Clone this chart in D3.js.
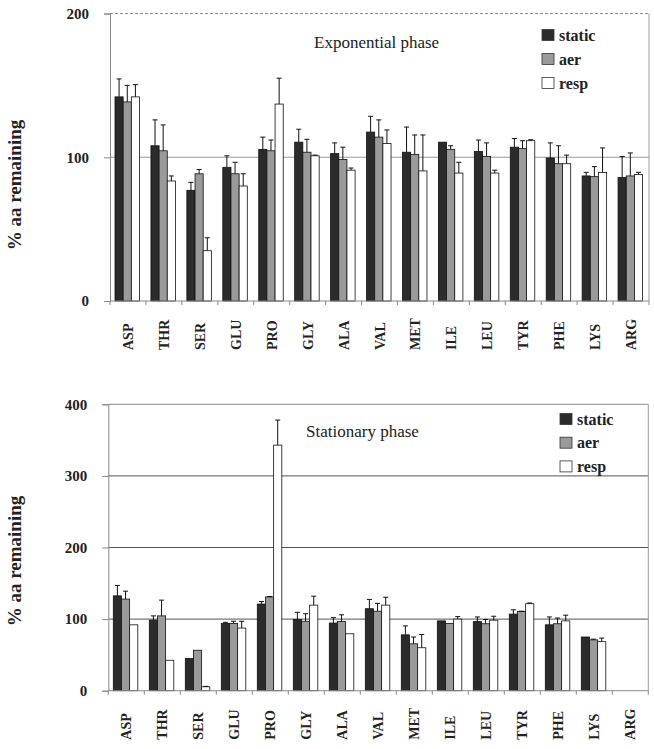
<!DOCTYPE html>
<html>
<head>
<meta charset="utf-8">
<script src="https://cdn.jsdelivr.net/npm/d3@7"></script>
<style>
  html, body { margin: 0; padding: 0; background: #fff; }
  svg { display: block; }
</style>
</head>
<body>
<svg id="chart" width="654" height="749"></svg>
<script>
const categories = ["ASP","THR","SER","GLU","PRO","GLY","ALA","VAL","MET","ILE","LEU","TYR","PHE","LYS","ARG"];
const seriesNames = ["static","aer","resp"];

// Exponential phase
const expStatic    = [142, 108, 77, 93, 105.5, 110.5, 102.5, 117.5, 103.5, 110.5, 104, 107, 99.5, 87, 86];
const expStaticErr = [12.5, 18, 5.5, 8, 8.5, 9, 7.5, 11, 17.5, 0, 8, 6, 10.5, 2.5, 14.5];
const expAer       = [138.5, 104.5, 88.5, 88.5, 104.5, 103.5, 98.5, 114, 102, 105.5, 100.5, 106, 95.5, 86.5, 87];
const expAerErr    = [11.5, 18, 3, 8, 7.5, 9, 8.5, 12, 13.5, 2.5, 9.5, 5.5, 12.5, 7, 16];
const expResp      = [142, 83.5, 35, 80, 137, 101, 91, 109.5, 90.5, 89, 89, 111.5, 95.5, 89.5, 88];
const expRespErr   = [8.5, 3.5, 9, 8.5, 18, 0.5, 1.5, 9.5, 25, 7.5, 2, 0.7, 6, 17, 1.5];

// Stationary phase
const statStatic    = [132.5, 98.5, 45, 94, 121, 99.5, 94.5, 114.5, 78, 97.5, 96.5, 107, 92, 75, 0];
const statStaticErr = [14.5, 6, 0, 1.5, 3.5, 10, 7.5, 13, 12.5, 0, 6.5, 6, 11, 0, 0];
const statAer       = [128, 104.5, 56.5, 94, 131, 97, 96.5, 111, 65.5, 94, 93.5, 110.5, 93.5, 71, 0];
const statAerErr    = [11, 22, 0, 3, 0.5, 10.5, 9.5, 11, 9.5, 0, 6, 0.5, 8, 1, 0];
const statResp      = [92, 42.5, 5.5, 87.5, 343, 119.5, 79.5, 119.5, 60, 100, 98.5, 121.5, 97.5, 68.5, 0];
const statRespErr   = [0, 0, 0.5, 9.5, 35, 12.5, 0, 11, 18.5, 3.5, 5.5, 1, 8, 5, 0];

const expTicks = [0, 100, 200];
const statTicks = [0, 100, 200, 300, 400];

const FONT = "'Liberation Serif', Tinos, 'Times New Roman', Times, 'DejaVu Serif', serif";
const fills = {static: "#2b2b2b", aer: "#9a9a9a", resp: "#ffffff"};
const svg = d3.select("#chart");

function drawPanel(cfg) {
  const g = svg.append("g");
  const x = d3.scaleBand().domain(categories).range([cfg.x0, cfg.x1]).paddingInner(0).paddingOuter(0);
  const xs = d3.scaleBand().domain(seriesNames).range([5, 29.5]);
  const y = d3.scaleLinear().domain([0, cfg.ticks[cfg.ticks.length - 1]]).range([cfg.yBot, cfg.yTop]);

  g.selectAll("line.grid").data(cfg.ticks.filter(t => t > 0 && t < cfg.ticks[cfg.ticks.length - 1]))
    .join("line").attr("class", "grid")
    .attr("x1", cfg.x0).attr("x2", cfg.x1)
    .attr("y1", d => y(d)).attr("y2", d => y(d))
    .attr("stroke", cfg.gridColor).attr("stroke-width", 1);
  g.append("line")
    .attr("x1", cfg.x0).attr("x2", cfg.x1)
    .attr("y1", cfg.yTop).attr("y2", cfg.yTop)
    .attr("stroke", "#8a8a8a").attr("stroke-width", 1)
    .attr("stroke-dasharray", cfg.dashedTop ? "3,2" : null);
  g.append("line")
    .attr("x1", cfg.x1).attr("x2", cfg.x1)
    .attr("y1", cfg.yTop).attr("y2", cfg.yBot)
    .attr("stroke", "#9a9a9a").attr("stroke-width", 1);

  const data = [];
  categories.forEach((c, i) => {
    seriesNames.forEach((s, j) => {
      data.push({cat: c, s: s, v: cfg.vals[j][i], e: cfg.errs[j][i]});
    });
  });
  g.selectAll("rect.bar").data(data.filter(d => d.v > 0)).join("rect").attr("class", "bar")
    .attr("x", d => x(d.cat) + xs(d.s))
    .attr("width", xs.bandwidth())
    .attr("y", d => y(d.v))
    .attr("height", d => y(0) - y(d.v))
    .attr("fill", d => fills[d.s])
    .attr("stroke", "#111").attr("stroke-width", 0.8);

  const eb = data.filter(d => d.v > 0 && d.e > 0);
  g.selectAll("line.err").data(eb).join("line").attr("class", "err")
    .attr("x1", d => x(d.cat) + xs(d.s) + xs.bandwidth() / 2)
    .attr("x2", d => x(d.cat) + xs(d.s) + xs.bandwidth() / 2)
    .attr("y1", d => y(d.v)).attr("y2", d => y(d.v + d.e))
    .attr("stroke", "#111").attr("stroke-width", 1);
  g.selectAll("line.cap").data(eb).join("line").attr("class", "cap")
    .attr("x1", d => x(d.cat) + xs(d.s) + xs.bandwidth() / 2 - 2.5)
    .attr("x2", d => x(d.cat) + xs(d.s) + xs.bandwidth() / 2 + 2.5)
    .attr("y1", d => y(d.v + d.e)).attr("y2", d => y(d.v + d.e))
    .attr("stroke", "#111").attr("stroke-width", 1);

  const yAxis = d3.axisLeft(y).tickValues(cfg.ticks).tickSize(6).tickPadding(15).tickFormat(d3.format("d"));
  const ya = g.append("g").attr("transform", `translate(${cfg.x0},0)`).call(yAxis);
  ya.select(".domain").attr("stroke", "#888");
  ya.selectAll(".tick line").attr("stroke", "#888");
  ya.selectAll(".tick text")
    .style("font-family", FONT).style("font-weight", "bold")
    .style("font-size", "15px").attr("fill", "#222");

  g.append("line").attr("x1", cfg.x0).attr("x2", cfg.x1)
    .attr("y1", cfg.yBot).attr("y2", cfg.yBot).attr("stroke", "#888");
  const bounds = categories.map(c => x(c)).concat([cfg.x1]);
  g.selectAll("line.xt").data(bounds).join("line").attr("class", "xt")
    .attr("x1", d => d).attr("x2", d => d)
    .attr("y1", cfg.yBot).attr("y2", cfg.yBot + 4)
    .attr("stroke", "#888");
  g.selectAll("text.xl").data(categories).join("text").attr("class", "xl")
    .attr("transform", d => `translate(${x(d) + x.bandwidth() / 2 + 5},${cfg.yBot + 49}) rotate(-90)`)
    .attr("text-anchor", "start")
    .style("font-family", FONT).style("font-weight", "bold").style("font-size", "14px").attr("fill", "#222")
    .text(d => d);

  g.append("text")
    .attr("transform", `translate(21,${cfg.titleY}) rotate(-90)`)
    .attr("text-anchor", "middle")
    .style("font-family", FONT).style("font-weight", "bold").style("font-size", "19px").attr("fill", "#222")
    .text("% aa remaining");

  g.append("text").attr("x", cfg.phaseX).attr("y", cfg.phaseY)
    .style("font-family", FONT).style("font-size", "17px").attr("fill", "#222").text(cfg.phase);

  const lg = g.append("g").attr("transform", `translate(${cfg.legX},${cfg.legY})`);
  seriesNames.forEach((s, i) => {
    lg.append("rect").attr("x", 0).attr("y", i * cfg.legStep).attr("width", 12).attr("height", 11)
      .attr("fill", fills[s]).attr("stroke", "#333").attr("stroke-width", 0.8);
    lg.append("text").attr("x", 17).attr("y", i * cfg.legStep + 11)
      .style("font-family", FONT).style("font-weight", "bold").style("font-size", "16px").attr("fill", "#222").text(s);
  });
}

drawPanel({
  x0: 110, x1: 649, yTop: 13.5, yBot: 301, ticks: expTicks,
  vals: [expStatic, expAer, expResp], errs: [expStaticErr, expAerErr, expRespErr],
  gridColor: "#9a9a9a", dashedTop: true,
  titleY: 185, phase: "Exponential phase", phaseX: 314, phaseY: 48,
  legX: 542, legY: 29.5, legStep: 24
});

drawPanel({
  x0: 108.3, x1: 648.3, yTop: 404.3, yBot: 690.7, ticks: statTicks,
  vals: [statStatic, statAer, statResp], errs: [statStaticErr, statAerErr, statRespErr],
  gridColor: "#555", dashedTop: false,
  titleY: 561, phase: "Stationary phase", phaseX: 306, phaseY: 436.5,
  legX: 560, legY: 413.5, legStep: 23.7
});
</script>
</body>
</html>
